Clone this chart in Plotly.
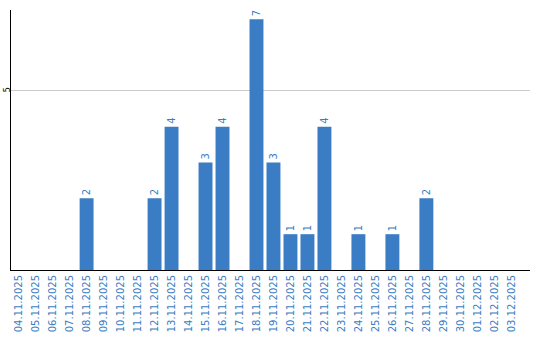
import plotly.graph_objects as go

dates = ["04.11.2025","05.11.2025","06.11.2025","07.11.2025","08.11.2025","09.11.2025",
         "10.11.2025","11.11.2025","12.11.2025","13.11.2025","14.11.2025","15.11.2025",
         "16.11.2025","17.11.2025","18.11.2025","19.11.2025","20.11.2025","21.11.2025",
         "22.11.2025","23.11.2025","24.11.2025","25.11.2025","26.11.2025","27.11.2025",
         "28.11.2025","29.11.2025","30.11.2025","01.12.2025","02.12.2025","03.12.2025"]
counts = [0,0,0,0,2,0,0,0,2,4,0,3,4,0,7,3,1,1,4,0,1,0,1,0,2,0,0,0,0,0]

blue = "#3a7dc4"
labels = [str(v) if v > 0 else "" for v in counts]
fig = go.Figure(go.Bar(
    x=dates, y=counts, marker_color=blue, marker_line_width=0,
    text=labels, textposition="outside", textangle=-90,
    textfont=dict(color=blue, size=10, family="DejaVu Sans"),
    cliponaxis=False,
))
fig.update_layout(
    width=540, height=340, margin=dict(l=11, r=10, t=10, b=70),
    plot_bgcolor="white", paper_bgcolor="white", bargap=0.18,
    showlegend=False,
)
fig.update_xaxes(type="category", range=[-0.45, 30.1], tickangle=-90,
                 tickfont=dict(color=blue, size=10, family="DejaVu Sans"),
                 showline=True, linecolor="black", linewidth=1, showgrid=False,
                 ticks="", automargin=False)
fig.update_yaxes(range=[0, 7.26], tickvals=[5], ticktext=["5"], tickangle=-90,
                 tickfont=dict(color="black", size=8, family="DejaVu Sans"),
                 ticklabelstandoff=-3,
                 showline=True, linecolor="black", linewidth=1,
                 showgrid=True, gridcolor="#cccccc", gridwidth=1, zeroline=False,
                 ticks="", automargin=False)
fig.write_html("out.html")
